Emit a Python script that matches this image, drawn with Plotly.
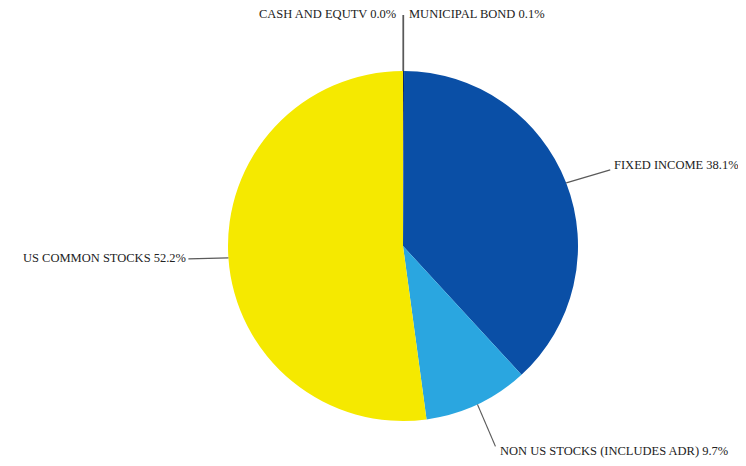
import math
import plotly.graph_objects as go

# ---- data ----
labels = ["MUNICIPAL BOND", "FIXED INCOME", "NON US STOCKS (INCLUDES ADR)",
          "US COMMON STOCKS", "CASH AND EQUTV"]
values = [0.1, 38.1, 9.7, 52.2, 0.0]
colors = ["#0b2a6e", "#0a4fa6", "#2aa6e0", "#f5e900", "#555555"]

# ---- layout geometry (figure pixels; page body adds an 8px offset) ----
W, H = 746, 466
cx, cy, R = 395, 238, 175
dom_x = [(cx - R) / W, (cx + R) / W]
dom_y = [(H - cy - R) / H, (H - cy + R) / H]

# label placement style: (line end dx, dy from edge point, text anchor, text dx, text dy)
label_style = {
    "MUNICIPAL BOND": (0, -56, "left", 3, -1),
    "FIXED INCOME": (44, -13, "left", 2, -5),
    "NON US STOCKS (INCLUDES ADR)": (18, 42, "left", 3, 5),
    "US COMMON STOCKS": (-40, 1, "right", 0, -1),
    "CASH AND EQUTV": (0, -56, "right", -5, -1),
}

def px2paper(x, y):
    return x / W, 1 - y / H

total = sum(values)
fig = go.Figure(go.Pie(
    labels=labels, values=values, sort=False, direction="clockwise", rotation=0,
    marker=dict(colors=colors, line=dict(width=0)),
    textinfo="none", hoverinfo="label+percent", domain=dict(x=dom_x, y=dom_y),
    showlegend=False,
))

shapes, annotations = [], []
cum = 0.0
for lab, v in zip(labels, values):
    mid = (cum + v / 2) / total * 2 * math.pi
    cum += v
    ex = cx + R * math.sin(mid)
    ey = cy - R * math.cos(mid)
    ldx, ldy, anchor, tdx, tdy = label_style[lab]
    lx, ly = ex + ldx, ey + ldy
    x0, y0 = px2paper(ex, ey)
    x1, y1 = px2paper(lx, ly)
    shapes.append(dict(type="line", xref="paper", yref="paper", x0=x0, y0=y0, x1=x1, y1=y1,
                       line=dict(color="#5a5a5a", width=1.2)))
    tx, ty = px2paper(lx + tdx, ly + tdy)
    annotations.append(dict(x=tx, y=ty, xref="paper", yref="paper", showarrow=False,
                            text=f"{lab} {v:.1f}%", xanchor=anchor, yanchor="middle",
                            font=dict(family="Liberation Serif", size=12.5, color="#222222")))

fig.update_layout(width=W, height=H, margin=dict(l=0, r=0, t=0, b=0),
                  paper_bgcolor="white", plot_bgcolor="white",
                  shapes=shapes, annotations=annotations)
fig.write_html("out.html")
